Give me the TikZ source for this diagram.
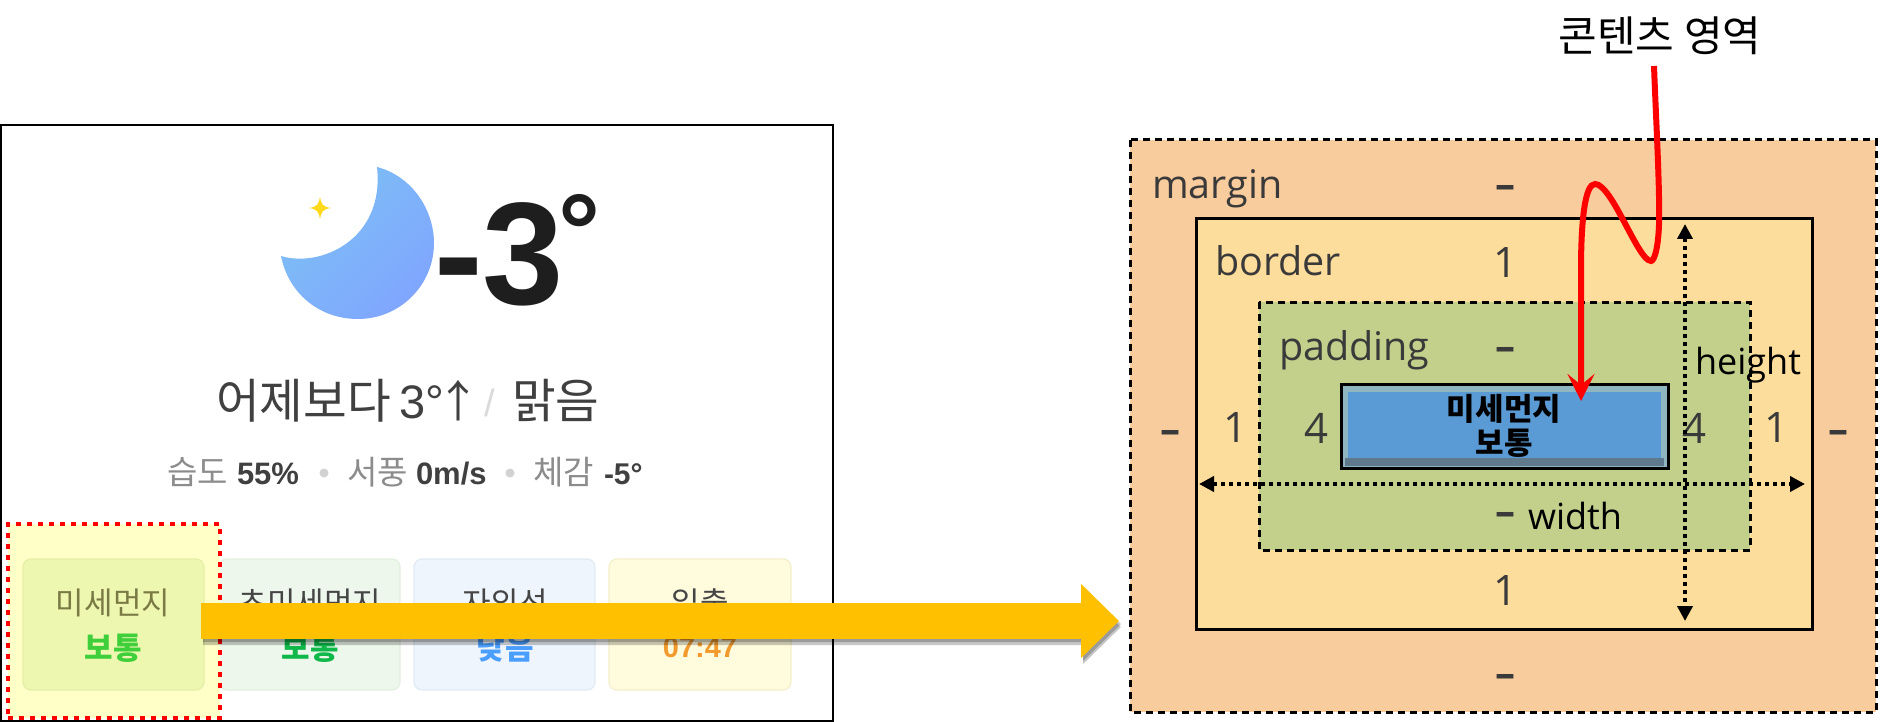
\documentclass[tikz,border=0pt]{standalone}
\usepackage{fontspec}
\setmainfont{Noto Sans CJK KR}
\newfontfamily\latinf{Liberation Sans}
\newfontfamily\uif{Open Sans}
\usetikzlibrary{arrows.meta}
\newcommand{\fsz}[1]{\fontsize{#1}{#1}\selectfont}
\definecolor{mFill}{HTML}{F9CC9D}
\definecolor{bFill}{HTML}{FDDD9B}
\definecolor{pFill}{HTML}{C3D08B}
\definecolor{cFill}{HTML}{5B9BD5}
\definecolor{lab}{HTML}{3A3A3A}
\definecolor{txa}{HTML}{404040}
\definecolor{txb}{HTML}{8C8C8C}
\definecolor{arrowY}{HTML}{FFC000}
\definecolor{moonA}{HTML}{7CC0F4}
\definecolor{moonB}{HTML}{80A6FF}
\definecolor{starY}{HTML}{FFD91A}
\definecolor{cardA}{HTML}{EEF7B0}
\definecolor{cardAe}{HTML}{E5EEA6}
\definecolor{cardB}{HTML}{EDF7EC}
\definecolor{cardBe}{HTML}{E3EFE1}
\definecolor{cardC}{HTML}{EEF5FC}
\definecolor{cardCe}{HTML}{E1EBF4}
\definecolor{cardD}{HTML}{FFFBDC}
\definecolor{cardDe}{HTML}{F3EFCB}
\definecolor{selY}{HTML}{FFFFC8}
\definecolor{headA}{HTML}{7A7A45}
\definecolor{headB}{HTML}{454545}
\definecolor{valA}{HTML}{3FCF3A}
\definecolor{valB}{HTML}{10B84A}
\definecolor{valC}{HTML}{4A9EFF}
\definecolor{valD}{HTML}{F39A2E}
\definecolor{bevL}{HTML}{8FB5C0}
\definecolor{bevD}{HTML}{5F7A8D}
\definecolor{ink}{HTML}{1E1E1E}
\definecolor{dotG}{HTML}{D2D2D2}
\definecolor{slashG}{HTML}{DADADA}
\tikzset{
  every node/.style={inner sep=0pt,outer sep=0pt},
  modeltxt/.style={text=lab,font=\uif\fsz{39.5}},
  modelnum/.style={text=lab,font=\uif\fsz{42}},
  modeldash/.style={text=lab,font=\uif\bfseries\fsz{40}},
  blacktxt/.style={text=black,font=\uif\fsz{36}},
  card/.style={rounded corners=8pt,line width=1.2pt},
  cardhead/.style={font=\fsz{31},text=#1},
  cardval/.style={font=\bfseries\fsz{31},text=#1},
  boxdash/.style={draw=black,line width=3pt,dash pattern=on 7pt off 5pt},
  dimline/.style={line width=4pt,black,dash pattern=on 4pt off 4pt,{Triangle[length=15pt,width=15pt]}-{Triangle[length=15pt,width=15pt]}},
  bigarrow/.style={line width=36pt,-{Triangle[length=38pt,width=72pt]}},
}
\begin{document}
\begin{tikzpicture}[x=1pt,y=-1pt]
\useasboundingbox (0,0) rectangle (1885,722);
\fill[white] (0,0) rectangle (1885,722);

% left panel
\node[draw=black,line width=2.2pt,minimum width=832pt,minimum height=596pt,anchor=north west,fill=white] (panel) at (1,125) {};

% moon
\shade[left color=moonA,right color=moonB,shading angle=45]
  (377,167) .. controls (412,176) and (434,210) .. (434,243)
  .. controls (434,285) and (400,319) .. (358,319)
  .. controls (318,319) and (288,292) .. (281,256)
  .. controls (320,268) and (385,240) .. (377,167) -- cycle;
\fill[starY] (320,197) .. controls (321,204) and (323,207) .. (331,208)
  .. controls (323,209) and (321,212) .. (320,219)
  .. controls (319,212) and (317,209) .. (309,208)
  .. controls (317,207) and (319,204) .. (320,197) -- cycle;

\node[font=\latinf\bfseries\fsz{146},text=ink,anchor=base west] (temp) at (434,304) {-3\kern-5pt\raisebox{37pt}{\fsz{105}°}};

\node[font=\fsz{47.5},text=txa,anchor=base west] (feel) at (216,418) {어제보다};
\node[font=\latinf\fsz{47},text=txa,anchor=base west] (feelb) at (399,418) {3°};
\node[font=\fsz{44},text=txa,anchor=base west] (feelc) at (436,417) {↑};
\node[font=\latinf\fsz{38},text=slashG,anchor=base] (slash) at (490,416) {/};
\node[font=\fsz{47.5},text=txa,anchor=base west] (sky) at (512,418) {맑음};

\node[font=\fsz{33},text=txb,anchor=base west] (h1) at (167,484) {습도};
\node[font=\latinf\bfseries\fsz{31},text=txa,anchor=base west] (h2) at (237,484) {55\%};
\node[circle,fill=dotG,minimum size=9pt] (d1) at (324,473) {};
\node[font=\fsz{33},text=txb,anchor=base west] (w1) at (347,484) {서풍};
\node[font=\latinf\bfseries\fsz{31},text=txa,anchor=base west] (w2) at (416,484) {0m/s};
\node[circle,fill=dotG,minimum size=9pt] (d2) at (510,473) {};
\node[font=\fsz{33},text=txb,anchor=base west] (t1) at (533,484) {체감};
\node[font=\latinf\bfseries\fsz{30},text=txa,anchor=base west] (t2) at (604,484) {-5°};

% cards
\filldraw[card,fill=cardB,draw=cardBe] (219,559) rectangle (400,690);
\filldraw[card,fill=cardC,draw=cardCe] (414,559) rectangle (595,690);
\filldraw[card,fill=cardD,draw=cardDe] (609,559) rectangle (791,690);
\fill[selY] (8,524) rectangle (220,718);
\filldraw[card,fill=cardA,draw=cardAe] (23,559) rectangle (204,690);

\node[cardhead=headA] (c1a) at (113,603) {미세먼지};
\node[cardval=valA] (c1b) at (113,648) {보통};
\node[cardhead=headB] (c2a) at (310,603) {초미세먼지};
\node[cardval=valB] (c2b) at (310,648) {보통};
\node[cardhead=headB] (c3a) at (505,603) {자외선};
\node[cardval=valC] (c3b) at (505,648) {낮음};
\node[cardhead=headB] (c4a) at (700,603) {일출};
\node[text=valD,font=\latinf\bfseries\fsz{29}] (c4b) at (700,648) {07:47};

\node[draw=red,line width=4pt,dash pattern=on 5pt off 6pt,minimum width=212pt,minimum height=194pt,anchor=north west] (sel) at (8,524) {};

% model boxes
\filldraw[fill=mFill,boxdash] (1130,140) rectangle (1876,712);
\filldraw[fill=bFill,draw=black,line width=3pt] (1196,219) rectangle (1812,629);
\filldraw[fill=pFill,boxdash] (1259,302) rectangle (1750,550);
\node[draw=black,line width=3pt,fill=bevL,minimum width=327pt,minimum height=84pt,anchor=north west] (content) at (1341,384) {};
\fill[bevD] (1345,458) rectangle (1664,466);
\fill[cFill] (1348,392) rectangle (1661,458);
\node[text=black,font=\bfseries\fsz{31}] (ct1) at (1504,409) {미세먼지};
\node[text=black,font=\bfseries\fsz{31}] (ct2) at (1504,443) {보통};

\node[modeltxt,anchor=base west] (lm) at (1152,199) {margin};
\node[modeltxt,anchor=base west] (lb) at (1215,276) {border};
\node[modeltxt,anchor=base west] (lp) at (1279,360) {padding};
\node[modeldash] (m1) at (1505,192) {–};
\node[modelnum] (b1) at (1505,263) {1};
\node[modeldash] (p1) at (1505,354) {–};
\node[modeldash] (m4) at (1170,437) {–};
\node[modelnum] (b4) at (1235,428) {1};
\node[modelnum] (p4) at (1316,428) {4};
\node[modelnum] (p2) at (1694,428) {4};
\node[modelnum] (b2) at (1776,428) {1};
\node[modeldash] (m2) at (1838,437) {–};
\node[modeldash] (p3) at (1505,519) {–};
\node[modelnum] (b3) at (1505,591) {1};
\node[modeldash] (m3) at (1505,681) {–};

\node[blacktxt] (hlab) at (1748,365) {height};
\node[blacktxt] (wlab) at (1575,516) {width};
\node[font=\fsz{42},text=black] (title) at (1660,36) {콘텐츠 영역};

% dimension arrows
\coordinate (wL) at (1199,484);
\coordinate (wR) at (1805,484);
\coordinate (hT) at (1685,224);
\coordinate (hB) at (1685,621);
\draw[dimline] (wL) -- (wR);
\draw[dimline] (hT) -- (hB);

% red pointer
\coordinate (redS) at (1654,66);
\coordinate (redE) at (1581,401);
\draw[red,line width=6pt,-{Stealth[length=27pt,width=27pt,inset=11pt]}]
  (redS) .. controls (1656,120) and (1660,190) .. (1659,225)
  .. controls (1658,250) and (1654,261) .. (1651,261)
  .. controls (1638,261) and (1612,184) .. (1595,184)
  .. controls (1585,184) and (1581,220) .. (1581,270)
  -- (redE);

% big arrow
\coordinate (aS) at (201,621);
\coordinate (aE) at (1119,621);
\begin{scope}[transparency group,opacity=.22]
\draw[bigarrow,black] ([shift={(2,6)}]aS) -- ([shift={(2,6)}]aE);
\end{scope}
\begin{scope}[transparency group,opacity=.22]
\draw[bigarrow,black] ([shift={(2,3)}]aS) -- ([shift={(2,3)}]aE);
\end{scope}
\draw[bigarrow,arrowY] (aS) -- (aE);
\end{tikzpicture}
\end{document}
